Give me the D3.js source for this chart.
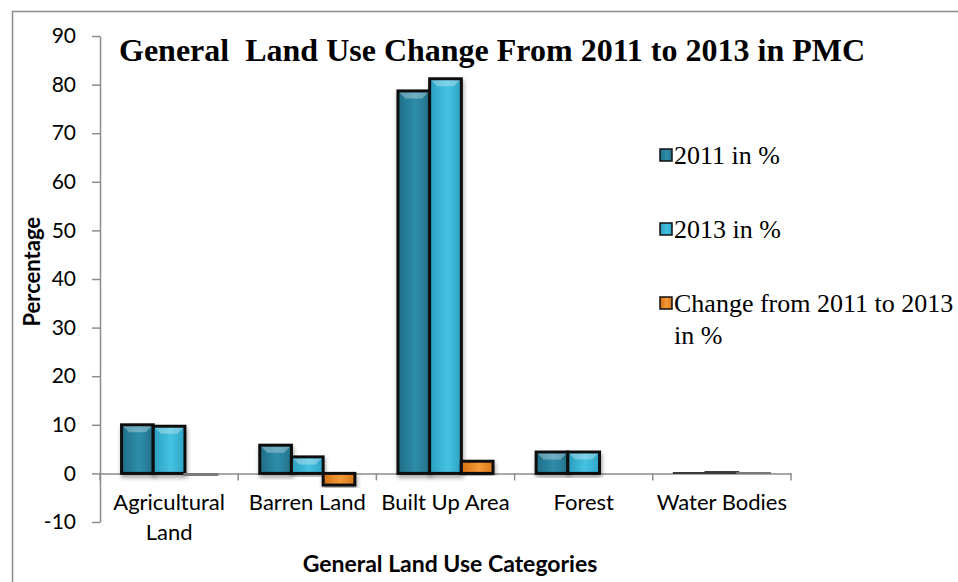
<!DOCTYPE html>
<meta charset="utf-8">
<script src="https://d3js.org/d3.v7.min.js"></script>
<style>
  body { margin: 0; background: #fff; }
</style>
<div id="chart"></div>
<script>

  // data
  var categories = ["Agricultural Land", "Barren Land", "Built Up Area", "Forest", "Water Bodies"];
  var seriesNames = ["2011 in %", "2013 in %", "Change from 2011 to 2013 in %"];
  var values2011 = [10.0, 5.8, 78.7, 4.4, 0.2];
  var values2013 = [9.7, 3.4, 81.2, 4.4, 0.35];
  var valuesChange = [-0.3, -2.4, 2.5, 0.0, 0.15];
  var yTicks = [-10, 0, 10, 20, 30, 40, 50, 60, 70, 80, 90];

  var W = 958, H = 582;
  var margin = {top: 36, left: 100};
  var plotW = 691, plotH = 486;

  var svg = d3.select("#chart").append("svg")
    .attr("width", W).attr("height", H);

  // outer frame (only left and top edges fall inside the picture)
  svg.append("rect")
    .attr("x", 12.5).attr("y", 11.5)
    .attr("width", W + 20).attr("height", H + 20)
    .attr("fill", "none").attr("stroke", "#8c8c8c").attr("stroke-width", 1.5);

  var defs = svg.append("defs");
  var palettes = [
    ["#1f6e86", "#2f8dab", "#23738c"],
    ["#2a9dbf", "#45c2e2", "#2ea3c4"],
    ["#d46f16", "#f59a35", "#d9771c"]
  ];
  palettes.forEach(function (p, i) {
    var gr = defs.append("linearGradient").attr("id", "grad" + i)
      .attr("x1", "0").attr("x2", "1").attr("y1", "0").attr("y2", "0");
    gr.append("stop").attr("offset", "0%").attr("stop-color", p[0]);
    gr.append("stop").attr("offset", "55%").attr("stop-color", p[1]);
    gr.append("stop").attr("offset", "100%").attr("stop-color", p[2]);
  });
  // soft shadow under the bars
  defs.append("filter").attr("id", "shadow")
    .attr("x", "-20%").attr("y", "-20%").attr("width", "140%").attr("height", "140%")
    .append("feDropShadow")
    .attr("dx", 1).attr("dy", 3).attr("stdDeviation", 2)
    .attr("flood-color", "#000").attr("flood-opacity", 0.35);

  var g = svg.append("g").attr("transform", "translate(" + margin.left + "," + margin.top + ")");

  var x = d3.scaleBand().domain(categories).range([0, plotW]);
  var xs = d3.scaleBand().domain(seriesNames).range([0, x.bandwidth()]).paddingOuter(0.68);
  var y = d3.scaleLinear().domain([-10, 90]).range([plotH, 0]);

  // y axis
  var yAxis = g.append("g")
    .call(d3.axisLeft(y).tickValues(yTicks).tickFormat(function (d) { return String(d); })
      .tickSize(8).tickPadding(16).tickSizeOuter(0));
  yAxis.select(".domain").attr("stroke", "#8c8c8c").attr("stroke-width", 1.5);
  yAxis.selectAll(".tick line").attr("stroke", "#8c8c8c").attr("stroke-width", 1.5);
  yAxis.selectAll(".tick text")
    .style("font-family", "Lato, 'Open Sans', sans-serif").style("font-size", "21px").attr("fill", "#000");

  // x axis at zero
  var xAxis = g.append("g").attr("transform", "translate(0," + y(0) + ")")
    .call(d3.axisBottom(x).tickSize(0).tickFormat(""));
  xAxis.select(".domain").attr("stroke", "#8c8c8c").attr("stroke-width", 1.5);
  // category separators
  var seps = d3.range(categories.length + 1);
  g.selectAll(".sep").data(seps).enter().append("line")
    .attr("x1", function (d) { return d * x.step(); })
    .attr("x2", function (d) { return d * x.step(); })
    .attr("y1", y(0)).attr("y2", y(0) + 7)
    .attr("stroke", "#8c8c8c").attr("stroke-width", 1.5);

  // category labels
  var labelLines = [["Agricultural", "Land"], ["Barren Land"], ["Built Up Area"], ["Forest"], ["Water Bodies"]];
  categories.forEach(function (c, i) {
    var t = g.append("text")
      .attr("x", x(c) + x.bandwidth() / 2)
      .attr("y", y(0) + 37)
      .attr("text-anchor", "middle")
      .style("font-family", "Lato, 'Open Sans', sans-serif").style("font-size", "22px");
    labelLines[i].forEach(function (l, j) {
      t.append("tspan").attr("x", x(c) + x.bandwidth() / 2).attr("dy", j ? 30 : 0).text(l);
    });
  });

  // bars
  var series = [values2011, values2013, valuesChange];
  series.forEach(function (vals, si) {
    var grp = g.append("g");
    var bars = grp.selectAll("g").data(vals).enter().append("g");
    bars.append("rect")
      .attr("x", function (d, i) { return x(categories[i]) + xs(seriesNames[si]); })
      .attr("y", function (d) { return y(Math.max(0, d)); })
      .attr("width", xs.bandwidth())
      .attr("height", function (d) { return Math.abs(y(d) - y(0)); })
      .attr("fill", "url(#grad" + si + ")")
      .attr("filter", "url(#shadow)")
      .attr("stroke", function (d) {
        if (Math.abs(y(d) - y(0)) > 3) return "#111";
        return si === 2 ? "#7a7a7a" : "#3a3a3a";
      })
      .attr("stroke-width", 3);
    // bevel highlight along the outer edge
    bars.filter(function (d) { return Math.abs(y(d) - y(0)) > 10; })
      .append("path")
      .attr("d", function (d, i) {
        var x0 = x(categories[i]) + xs(seriesNames[si]) + 1.5;
        var x1 = x0 + xs.bandwidth() - 3;
        var yt = d >= 0 ? y(d) + 1.5 : y(d) - 1.5;
        var b = d >= 0 ? 6 : -6;
        return "M" + x0 + "," + yt + "L" + x1 + "," + yt + "L" + (x1 - Math.abs(b)) + "," + (yt + b) + "L" + (x0 + Math.abs(b)) + "," + (yt + b) + "Z";
      })
      .attr("fill", "#ffffff").attr("fill-opacity", 0.3);
  });

  // title
  svg.append("text")
    .attr("x", 119).attr("y", 61)
    .style("font-family", "'Liberation Serif', 'Times New Roman', serif")
    .style("font-weight", "bold").style("font-size", "32px")
    .attr("xml:space", "preserve")
    .text("General  Land Use Change From 2011 to 2013 in PMC");

  // axis titles
  svg.append("text")
    .attr("transform", "translate(40," + (margin.top + y(41.5)) + ") rotate(-90)")
    .attr("text-anchor", "middle")
    .style("font-family", "Lato, 'Open Sans', sans-serif").style("font-weight", "bold").style("font-size", "22px")
    .text("Percentage");
  svg.append("text")
    .attr("x", 450).attr("y", 572)
    .attr("text-anchor", "middle")
    .style("font-family", "Lato, 'Open Sans', sans-serif").style("font-weight", "bold").style("font-size", "23px")
    .text("General Land Use Categories");

  // legend
  var legendLines = [["2011 in %"], ["2013 in %"], ["Change from 2011 to 2013", "in %"]];
  var legend = svg.append("g").attr("transform", "translate(660,155)");
  seriesNames.forEach(function (s, i) {
    var row = legend.append("g").attr("transform", "translate(0," + i * 74 + ")");
    row.append("rect").attr("x", 0).attr("y", -6).attr("width", 12).attr("height", 12)
      .attr("fill", "url(#grad" + i + ")").attr("stroke", "#111").attr("stroke-width", 1.5);
    var t = row.append("text").attr("x", 14).attr("y", 9)
      .style("font-family", "'Liberation Serif', 'Times New Roman', serif").style("font-size", "26px");
    legendLines[i].forEach(function (l, j) {
      t.append("tspan").attr("x", 14).attr("dy", j ? 32 : 0).text(l);
    });
  });
</script>
